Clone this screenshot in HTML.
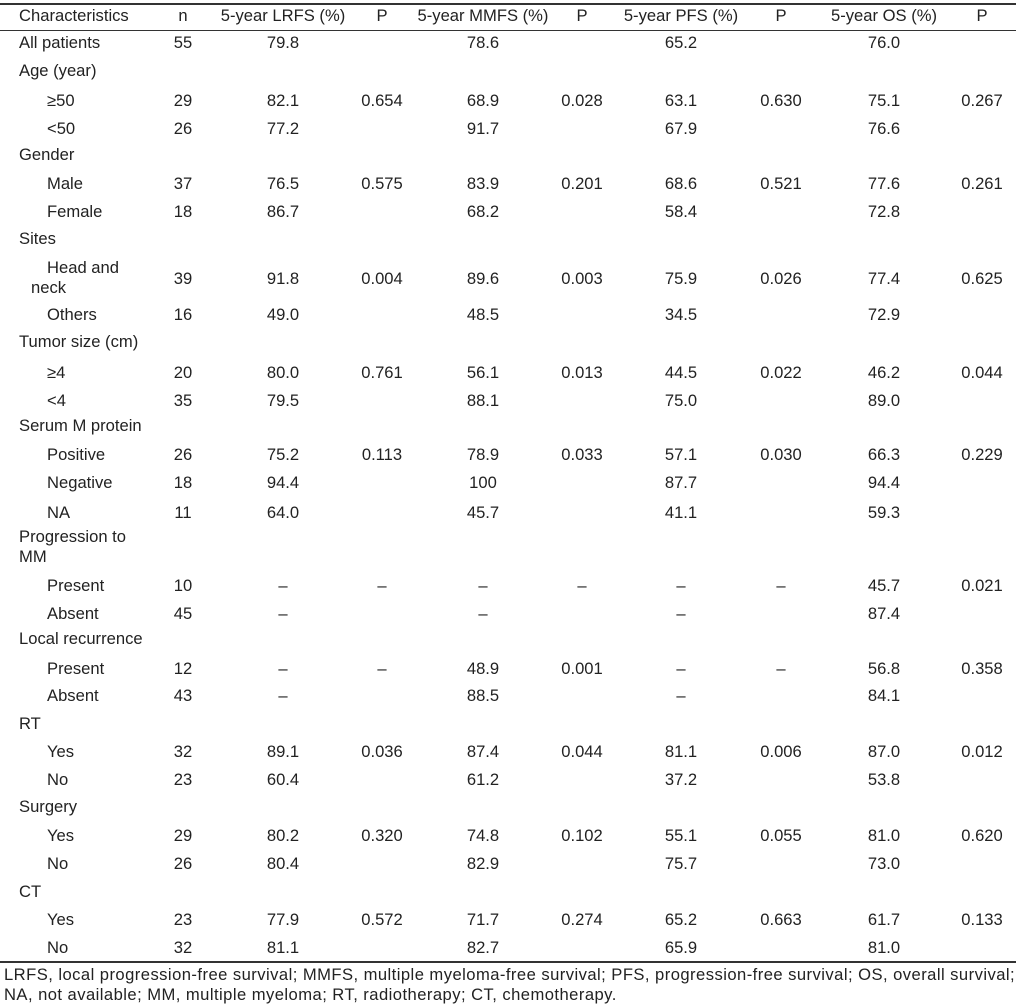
<!DOCTYPE html>
<html><head><meta charset="utf-8"><style>
body{margin:0;width:1016px;height:1008px;background:#fff;position:relative;overflow:hidden;font-family:"Liberation Sans",Arial,sans-serif;font-size:16.6px;color:#222}
.r{position:absolute;left:0;width:1016px;height:20px;line-height:20px}
.r span{position:absolute;top:0;white-space:nowrap}
.a{left:19px}.b{left:47px}
.n,.l,.p1,.m,.p2,.f,.p3,.o,.p4{width:140px;text-align:center}
.n{left:113px}.l{left:213px}.p1{left:312px}.m{left:413px}.p2{left:512px}.f{left:611px}.p3{left:711px}.o{left:814px}.p4{left:912px}
.hl{position:absolute;left:0;width:1016px;background:#333}
.fn{letter-spacing:0.45px}
</style></head><body>
<div class="hl" style="top:3px;height:2px"></div>
<div class="hl" style="top:30px;height:1px"></div>
<div class="hl" style="top:961px;height:2px"></div>
<div class="r" style="top:6px"><span class="a">Characteristics</span><span class="n">n</span><span class="l">5-year LRFS (%)</span><span class="p1">P</span><span class="m">5-year MMFS (%)</span><span class="p2">P</span><span class="f">5-year PFS (%)</span><span class="p3">P</span><span class="o">5-year OS (%)</span><span class="p4">P</span></div>
<div class="r" style="top:33px"><span class="a">All patients</span><span class="n">55</span><span class="l">79.8</span><span class="m">78.6</span><span class="f">65.2</span><span class="o">76.0</span></div>
<div class="r" style="top:61px"><span class="a">Age (year)</span></div>
<div class="r" style="top:91px"><span class="b">≥50</span><span class="n">29</span><span class="l">82.1</span><span class="p1">0.654</span><span class="m">68.9</span><span class="p2">0.028</span><span class="f">63.1</span><span class="p3">0.630</span><span class="o">75.1</span><span class="p4">0.267</span></div>
<div class="r" style="top:119px"><span class="b">&lt;50</span><span class="n">26</span><span class="l">77.2</span><span class="m">91.7</span><span class="f">67.9</span><span class="o">76.6</span></div>
<div class="r" style="top:145px"><span class="a">Gender</span></div>
<div class="r" style="top:174px"><span class="b">Male</span><span class="n">37</span><span class="l">76.5</span><span class="p1">0.575</span><span class="m">83.9</span><span class="p2">0.201</span><span class="f">68.6</span><span class="p3">0.521</span><span class="o">77.6</span><span class="p4">0.261</span></div>
<div class="r" style="top:202px"><span class="b">Female</span><span class="n">18</span><span class="l">86.7</span><span class="m">68.2</span><span class="f">58.4</span><span class="o">72.8</span></div>
<div class="r" style="top:229px"><span class="a">Sites</span></div>
<div class="r" style="top:258px"><span class="b">Head and</span></div>
<div class="r" style="top:278px"><span class="a" style="left:31px">neck</span></div>
<div class="r" style="top:269px"><span class="n">39</span><span class="l">91.8</span><span class="p1">0.004</span><span class="m">89.6</span><span class="p2">0.003</span><span class="f">75.9</span><span class="p3">0.026</span><span class="o">77.4</span><span class="p4">0.625</span></div>
<div class="r" style="top:305px"><span class="b">Others</span><span class="n">16</span><span class="l">49.0</span><span class="m">48.5</span><span class="f">34.5</span><span class="o">72.9</span></div>
<div class="r" style="top:332px"><span class="a">Tumor size (cm)</span></div>
<div class="r" style="top:363px"><span class="b">≥4</span><span class="n">20</span><span class="l">80.0</span><span class="p1">0.761</span><span class="m">56.1</span><span class="p2">0.013</span><span class="f">44.5</span><span class="p3">0.022</span><span class="o">46.2</span><span class="p4">0.044</span></div>
<div class="r" style="top:391px"><span class="b">&lt;4</span><span class="n">35</span><span class="l">79.5</span><span class="m">88.1</span><span class="f">75.0</span><span class="o">89.0</span></div>
<div class="r" style="top:416px"><span class="a">Serum M protein</span></div>
<div class="r" style="top:445px"><span class="b">Positive</span><span class="n">26</span><span class="l">75.2</span><span class="p1">0.113</span><span class="m">78.9</span><span class="p2">0.033</span><span class="f">57.1</span><span class="p3">0.030</span><span class="o">66.3</span><span class="p4">0.229</span></div>
<div class="r" style="top:473px"><span class="b">Negative</span><span class="n">18</span><span class="l">94.4</span><span class="m">100</span><span class="f">87.7</span><span class="o">94.4</span></div>
<div class="r" style="top:503px"><span class="b">NA</span><span class="n">11</span><span class="l">64.0</span><span class="m">45.7</span><span class="f">41.1</span><span class="o">59.3</span></div>
<div class="r" style="top:527px"><span class="a">Progression to</span></div>
<div class="r" style="top:547px"><span class="a">MM</span></div>
<div class="r" style="top:576px"><span class="b">Present</span><span class="n">10</span><span class="l">–</span><span class="p1">–</span><span class="m">–</span><span class="p2">–</span><span class="f">–</span><span class="p3">–</span><span class="o">45.7</span><span class="p4">0.021</span></div>
<div class="r" style="top:604px"><span class="b">Absent</span><span class="n">45</span><span class="l">–</span><span class="m">–</span><span class="f">–</span><span class="o">87.4</span></div>
<div class="r" style="top:629px"><span class="a">Local recurrence</span></div>
<div class="r" style="top:659px"><span class="b">Present</span><span class="n">12</span><span class="l">–</span><span class="p1">–</span><span class="m">48.9</span><span class="p2">0.001</span><span class="f">–</span><span class="p3">–</span><span class="o">56.8</span><span class="p4">0.358</span></div>
<div class="r" style="top:686px"><span class="b">Absent</span><span class="n">43</span><span class="l">–</span><span class="m">88.5</span><span class="f">–</span><span class="o">84.1</span></div>
<div class="r" style="top:714px"><span class="a">RT</span></div>
<div class="r" style="top:742px"><span class="b">Yes</span><span class="n">32</span><span class="l">89.1</span><span class="p1">0.036</span><span class="m">87.4</span><span class="p2">0.044</span><span class="f">81.1</span><span class="p3">0.006</span><span class="o">87.0</span><span class="p4">0.012</span></div>
<div class="r" style="top:770px"><span class="b">No</span><span class="n">23</span><span class="l">60.4</span><span class="m">61.2</span><span class="f">37.2</span><span class="o">53.8</span></div>
<div class="r" style="top:797px"><span class="a">Surgery</span></div>
<div class="r" style="top:826px"><span class="b">Yes</span><span class="n">29</span><span class="l">80.2</span><span class="p1">0.320</span><span class="m">74.8</span><span class="p2">0.102</span><span class="f">55.1</span><span class="p3">0.055</span><span class="o">81.0</span><span class="p4">0.620</span></div>
<div class="r" style="top:854px"><span class="b">No</span><span class="n">26</span><span class="l">80.4</span><span class="m">82.9</span><span class="f">75.7</span><span class="o">73.0</span></div>
<div class="r" style="top:882px"><span class="a">CT</span></div>
<div class="r" style="top:910px"><span class="b">Yes</span><span class="n">23</span><span class="l">77.9</span><span class="p1">0.572</span><span class="m">71.7</span><span class="p2">0.274</span><span class="f">65.2</span><span class="p3">0.663</span><span class="o">61.7</span><span class="p4">0.133</span></div>
<div class="r" style="top:938px"><span class="b">No</span><span class="n">32</span><span class="l">81.1</span><span class="m">82.7</span><span class="f">65.9</span><span class="o">81.0</span></div>
<div class="r fn" style="top:965px"><span style="left:4px">LRFS, local progression-free survival; MMFS, multiple myeloma-free survival; PFS, progression-free survival; OS, overall survival;</span></div>
<div class="r fn" style="top:985px"><span style="left:4px">NA, not available; MM, multiple myeloma; RT, radiotherapy; CT, chemotherapy.</span></div>
</body></html>
